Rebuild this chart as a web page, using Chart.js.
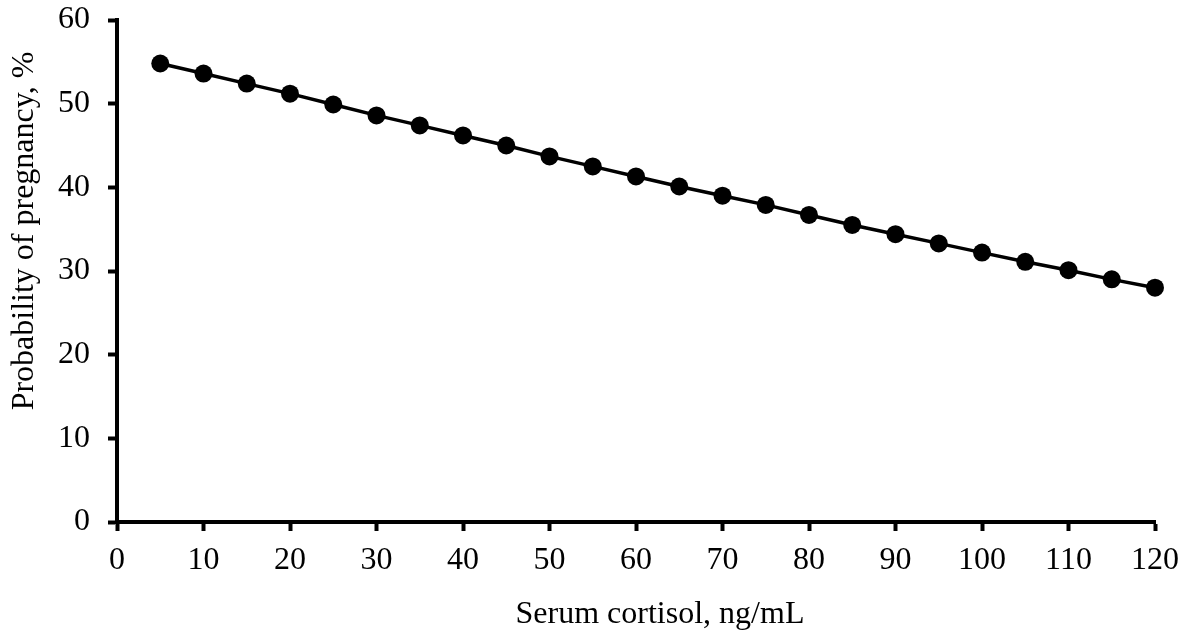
<!DOCTYPE html>
<html>
<head>
<meta charset="utf-8">
<script src="https://cdn.jsdelivr.net/npm/chart.js@4"></script>
<style>
  html, body { margin: 0; padding: 0; background: #fff; }
  #wrap { width: 1186px; height: 632px; }
</style>
</head>
<body>
<div id="wrap"><canvas id="myChart"></canvas></div>
<script>
const cortisol = [5, 10, 15, 20, 25, 30, 35, 40, 45, 50, 55, 60, 65, 70, 75, 80, 85, 90, 95, 100, 105, 110, 115, 120];
const pregnancy = [54.8, 53.6, 52.4, 51.2, 49.9, 48.6, 47.4, 46.2, 45.0, 43.7, 42.5, 41.3, 40.1, 39.0, 37.9, 36.7, 35.5, 34.4, 33.3, 32.2, 31.1, 30.1, 29.0, 28.0];
const xTicks = [0, 120, 10];
const yTicks = [0, 60, 10];
const xTitle = "Serum cortisol, ng/mL";
const yTitle = "Probability of pregnancy, %";

const serif = "'Liberation Serif', 'Times New Roman', serif";

// axis titles sit a bit off-centre in the original, so draw them by hand
const axisTitles = {
  id: "axisTitles",
  afterDraw(chart) {
    const { ctx, chartArea } = chart;
    const cx = (chartArea.left + chartArea.right) / 2;
    const cy = (chartArea.top + chartArea.bottom) / 2;
    ctx.save();
    ctx.fillStyle = "#000";
    ctx.font = "32px " + serif;
    ctx.textAlign = "center";
    ctx.textBaseline = "alphabetic";
    ctx.fillText(xTitle, cx + 24, 623);
    ctx.translate(33, cy - 40);
    ctx.rotate(-Math.PI / 2);
    ctx.fillText(yTitle, 0, 0);
    ctx.restore();
  },
};

const ctx = document.getElementById("myChart");

const myChart = new Chart(ctx, {
  type: "line",
  plugins: [axisTitles],
  data: {
    datasets: [
      {
        label: "Probability of pregnancy",
        data: cortisol.map((x, i) => ({ x: x, y: pregnancy[i] })),
        borderColor: "#000",
        backgroundColor: "#000",
        borderWidth: 3.5,
        tension: 0,
        pointRadius: 9,
        pointHoverRadius: 9,
        pointBackgroundColor: "#000",
        pointBorderColor: "#000",
        pointBorderWidth: 0,
        clip: false,
      },
    ],
  },
  options: {
    responsive: true,
    maintainAspectRatio: false,
    animation: false,
    layout: {
      padding: { top: 20, right: 31, bottom: 0, left: 0 },
    },
    plugins: {
      legend: { display: false },
      tooltip: { enabled: false },
    },
    scales: {
      x: {
        type: "linear",
        min: xTicks[0],
        max: xTicks[1],
        afterFit: (scale) => {
          scale.height = 110;
          scale.paddingLeft = 0;
          scale.paddingRight = 0;
        },
        border: { display: true, color: "#000", width: 4 },
        grid: {
          drawOnChartArea: false,
          drawTicks: true,
          tickLength: 9,
          tickWidth: 4,
          tickColor: "#000",
        },
        ticks: {
          stepSize: xTicks[2],
          color: "#000",
          padding: 10,
          maxRotation: 0,
          font: { family: serif, size: 32 },
        },
      },
      y: {
        min: yTicks[0],
        max: yTicks[1],
        afterFit: (scale) => {
          scale.width = 117;
          scale.paddingTop = 0;
          scale.paddingBottom = 0;
        },
        border: { display: true, color: "#000", width: 4 },
        grid: {
          drawOnChartArea: false,
          drawTicks: true,
          tickLength: 9,
          tickWidth: 4,
          tickColor: "#000",
        },
        ticks: {
          stepSize: yTicks[2],
          color: "#000",
          padding: 18,
          font: { family: serif, size: 32 },
        },
      },
    },
  },
});
</script>
</body>
</html>
